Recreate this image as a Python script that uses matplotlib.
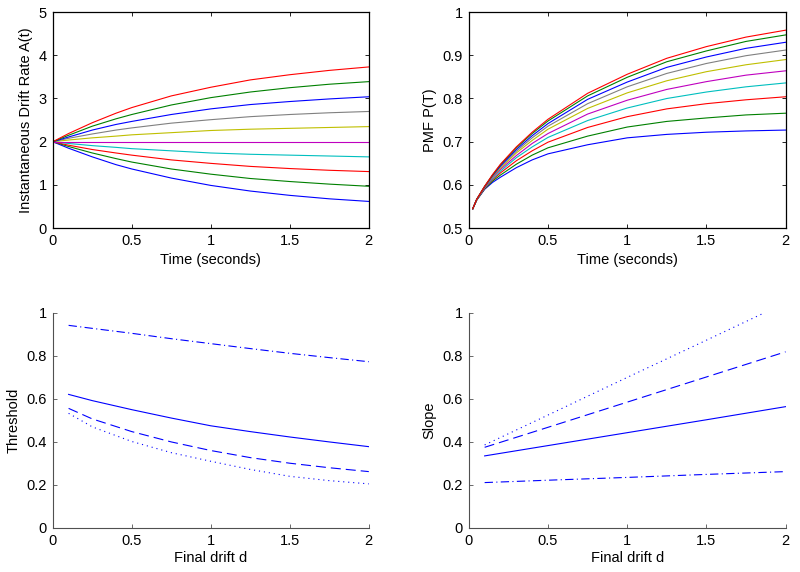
import numpy as np
import matplotlib
matplotlib.use('Agg')
import matplotlib.pyplot as plt
from matplotlib.ticker import FuncFormatter

plt.rcParams['font.family'] = ['Liberation Sans', 'DejaVu Sans']
plt.rcParams['font.size'] = 10.5

# top left: instantaneous drift rate A(t)
t_drift = [0, 0.1, 0.25, 0.4, 0.5, 0.75, 1, 1.25, 1.5, 1.75, 2]
drift_curves = [
    [2, 1.85, 1.65, 1.47, 1.37, 1.16, 0.99, 0.86, 0.76, 0.68, 0.62],
    [2, 1.89, 1.74, 1.61, 1.53, 1.37, 1.25, 1.15, 1.08, 1.02, 0.97],
    [2, 1.92, 1.82, 1.74, 1.69, 1.58, 1.50, 1.43, 1.38, 1.34, 1.31],
    [2, 1.96, 1.91, 1.87, 1.84, 1.79, 1.74, 1.71, 1.69, 1.67, 1.65],
    [2, 2, 2, 2, 2, 2, 2, 2, 2, 2, 2],
    [2, 2.04, 2.09, 2.13, 2.16, 2.21, 2.26, 2.29, 2.31, 2.33, 2.35],
    [2, 2.08, 2.18, 2.27, 2.32, 2.43, 2.51, 2.58, 2.63, 2.67, 2.70],
    [2, 2.11, 2.27, 2.40, 2.47, 2.63, 2.76, 2.86, 2.93, 2.99, 3.04],
    [2, 2.15, 2.36, 2.53, 2.63, 2.85, 3.02, 3.15, 3.25, 3.33, 3.39],
    [2, 2.19, 2.44, 2.66, 2.79, 3.06, 3.26, 3.43, 3.55, 3.65, 3.73],
]

# top right: PMF P(T)
t_pmf = [0.025, 0.05, 0.1, 0.15, 0.2, 0.3, 0.4, 0.5, 0.75, 1, 1.25, 1.5, 1.75, 2]
pmf_curves = [
    [.545, .565, .590, .606, .618, .640, .658, .672, .693, .709, .717, .722, .725, .727],
    [.545, .565, .591, .609, .623, .648, .669, .686, .713, .734, .747, .755, .762, .766],
    [.545, .566, .592, .612, .628, .656, .679, .699, .733, .758, .776, .788, .797, .804],
    [.545, .566, .593, .614, .632, .663, .688, .710, .749, .778, .800, .815, .827, .836],
    [.545, .566, .594, .617, .636, .668, .696, .719, .764, .796, .821, .839, .854, .864],
    [.545, .566, .595, .619, .639, .674, .703, .729, .777, .813, .841, .862, .878, .890],
    [.545, .567, .596, .620, .642, .678, .709, .736, .788, .827, .858, .881, .899, .912],
    [.545, .567, .596, .622, .644, .682, .714, .742, .798, .838, .872, .896, .916, .930],
    [.545, .567, .597, .623, .647, .686, .719, .748, .806, .849, .885, .910, .932, .947],
    [.545, .567, .597, .624, .648, .688, .722, .752, .812, .856, .893, .920, .942, .958],
]
curve_colors = ['#0000ff', '#008000', '#ff0000', '#00bfbf', '#bf00bf',
                '#bfbf00', '#808080', '#0000ff', '#008000', '#ff0000']

# bottom left: threshold vs final drift
d_thr = [0.1, 0.25, 0.5, 0.75, 1, 1.25, 1.5, 1.75, 2]
thr_solid = [.621, .592, .550, .511, .475, .448, .423, .400, .378]
thr_dashed = [.556, .507, .448, .400, .360, .327, .301, .280, .262]
thr_dotted = [.533, .470, .402, .350, .310, .272, .240, .220, .205]
thr_dashdot = [.942, .928, .905, .880, .857, .834, .812, .792, .773]

# bottom right: slope vs final drift
d_slope = [0.1, 0.5, 1, 1.5, 2]
slope_solid = [.335, .383, .443, .503, .564]
slope_dashed = [.375, .468, .585, .702, .819]
slope_dotted = [.386, .525, .700, .873, 1.047]
slope_dashdot = [.211, .222, .235, .249, .262]

fig = plt.figure(figsize=(8, 5.72), dpi=100)
ax1 = fig.add_axes([0.066, 0.601, 0.395, 0.378])
ax2 = fig.add_axes([0.586, 0.601, 0.396, 0.378])
ax3 = fig.add_axes([0.066, 0.077, 0.395, 0.376])
ax4 = fig.add_axes([0.586, 0.077, 0.396, 0.376])

fmt = FuncFormatter(lambda v, p: '%g' % round(v, 3))

for c, col in zip(drift_curves, curve_colors):
    ax1.plot(t_drift, c, color=col, lw=0.8)
for c, col in zip(pmf_curves, curve_colors):
    ax2.plot(t_pmf, c, color=col, lw=0.8)

ax1.set_xlim(0, 2)
ax1.set_ylim(0, 5)
ax1.set_yticks(range(6))
ax2.set_xlim(0, 2)
ax2.set_ylim(0.5, 1)
ax2.set_yticks([0.5, 0.6, 0.7, 0.8, 0.9, 1])
ax1.set_xlabel('Time (seconds)', labelpad=3)
ax2.set_xlabel('Time (seconds)', labelpad=3)
ax1.set_ylabel('Instantaneous Drift Rate A(t)', labelpad=4)
ax2.set_ylabel('PMF P(T)', labelpad=4)

blue = '#0000ff'
dash = (0, (9, 4.5))
dashdot = (0, (7.5, 3, 1, 3))
dot = (0, (1, 3.5))
ax3.plot(d_thr, thr_solid, color=blue, lw=0.8)
ax3.plot(d_thr, thr_dashed, color=blue, lw=0.8, ls=dash)
ax3.plot(d_thr, thr_dotted, color=blue, lw=0.8, ls=dot)
ax3.plot(d_thr, thr_dashdot, color=blue, lw=0.8, ls=dashdot)
ax4.plot(d_slope, slope_solid, color=blue, lw=0.8)
ax4.plot(d_slope, slope_dashed, color=blue, lw=0.8, ls=dash)
ax4.plot(d_slope, slope_dotted, color=blue, lw=0.8, ls=dot)
ax4.plot(d_slope, slope_dashdot, color=blue, lw=0.8, ls=dashdot)

for ax in (ax3, ax4):
    ax.set_xlim(0, 2)
    ax.set_ylim(0, 1)
    ax.set_yticks([0, 0.2, 0.4, 0.6, 0.8, 1])
    ax.set_xlabel('Final drift d', labelpad=2)
    for s in ('top', 'right'):
        ax.spines[s].set_visible(False)
    for s in ('left', 'bottom'):
        ax.spines[s].set_color('#505050')
        ax.spines[s].set_linewidth(0.8)
    ax.tick_params(direction='in', length=3, width=0.6, color='#505050')
ax3.set_ylabel('Threshold', labelpad=4)
ax4.set_ylabel('Slope', labelpad=4)

for ax in (ax1, ax2):
    for s in ax.spines.values():
        s.set_linewidth(0.9)
    ax.tick_params(direction='in', length=3, width=0.6, top=True, right=True)

for ax in (ax1, ax2, ax3, ax4):
    ax.set_xticks([0, 0.5, 1, 1.5, 2])
    ax.xaxis.set_major_formatter(fmt)
    ax.yaxis.set_major_formatter(fmt)
    ax.tick_params(labelsize=10.5, pad=4.5)

fig.savefig('out.png', dpi=100)
